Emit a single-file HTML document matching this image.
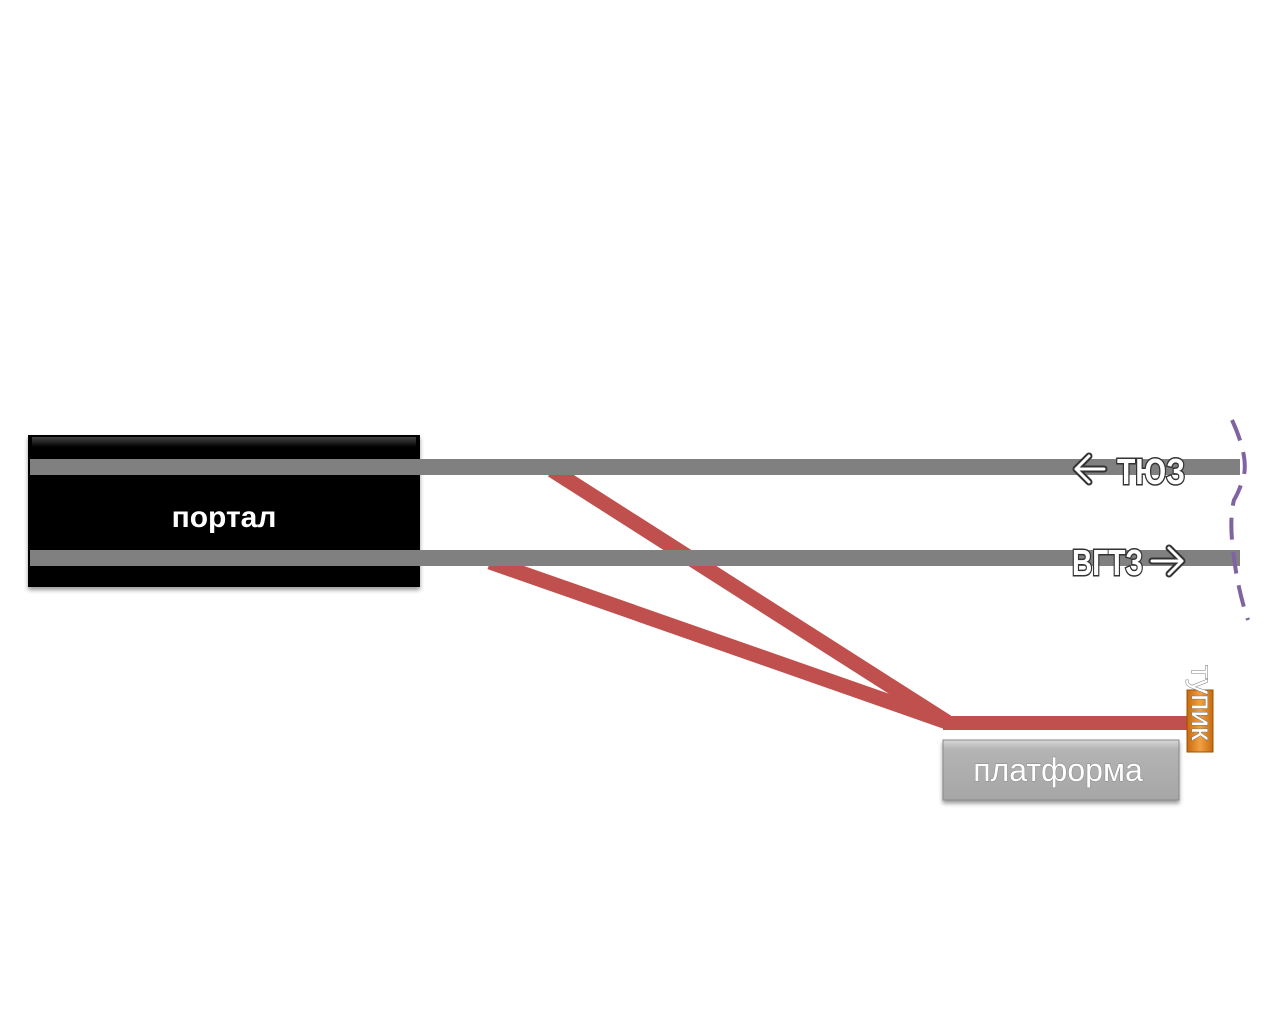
<!DOCTYPE html>
<html><head><meta charset="utf-8"><style>
html,body{margin:0;padding:0;background:#fff;}
body{width:1281px;height:1029px;position:relative;overflow:hidden;font-family:"Liberation Sans","DejaVu Sans",sans-serif;}
</style></head><body>
<svg width="1281" height="1029" viewBox="0 0 1281 1029" xmlns="http://www.w3.org/2000/svg" style="position:absolute;left:0;top:0">
<defs>
<linearGradient id="pg" x1="0" y1="0" x2="0" y2="1">
<stop offset="0" stop-color="#d8d8d8"/><stop offset="0.15" stop-color="#b4b4b4"/><stop offset="1" stop-color="#a6a6a6"/></linearGradient>
<linearGradient id="og" x1="0" y1="0" x2="1" y2="0">
<stop offset="0" stop-color="#c86a10"/><stop offset="0.5" stop-color="#f0a040"/><stop offset="1" stop-color="#c86a10"/></linearGradient>
<linearGradient id="bg" x1="0" y1="0" x2="0" y2="1">
<stop offset="0" stop-color="#444"/><stop offset="1" stop-color="#000"/></linearGradient>
<filter id="sh" x="-5%" y="-5%" width="110%" height="120%"><feDropShadow dx="0" dy="3" stdDeviation="2" flood-color="#000" flood-opacity="0.4"/></filter>
</defs>
<rect x="28" y="435" width="392" height="152" fill="#000" filter="url(#sh)"/>
<rect x="32" y="437" width="384" height="10" fill="url(#bg)"/>
<line x1="552" y1="470" x2="947" y2="722" stroke="#c0504d" stroke-width="15"/>
<line x1="490" y1="562" x2="947" y2="722" stroke="#c0504d" stroke-width="15"/>
<rect x="943" y="716" width="247" height="14" fill="#c0504d"/>
<rect x="30" y="459" width="1210" height="16" fill="#808080"/>
<rect x="30" y="550" width="1210" height="16" fill="#808080"/>
<text x="224" y="527" font-size="30" font-weight="bold" fill="#fff" text-anchor="middle">портал</text>
<g font-size="36" font-weight="bold" fill="#fff" stroke="#333" stroke-width="3" paint-order="stroke">
<text x="1117" y="484" textLength="68" lengthAdjust="spacingAndGlyphs">ТЮЗ</text>
<text x="1072" y="575" textLength="71" lengthAdjust="spacingAndGlyphs">ВГТЗ</text>
</g>
<g fill="none" stroke-linecap="round" stroke-linejoin="round">
<path d="M1104 469 H1076 M1089 456 L1076 469 L1089 482" stroke="#333" stroke-width="7"/>
<path d="M1104 469 H1076 M1089 456 L1076 469 L1089 482" stroke="#fff" stroke-width="3"/>
<path d="M1152 561 H1182 M1169 548 L1182 561 L1169 574" stroke="#333" stroke-width="7"/>
<path d="M1152 561 H1182 M1169 548 L1182 561 L1169 574" stroke="#fff" stroke-width="3"/>
</g>
<path d="M1232 420 Q1248 455 1244 475 Q1240 490 1234 500 Q1230 515 1232 540 Q1236 585 1248 620" fill="none" stroke="#8064a2" stroke-width="4" stroke-dasharray="22 12"/>
<rect x="943" y="740" width="236" height="60" fill="url(#pg)" stroke="#8a8a8a" stroke-width="1" filter="url(#sh)"/>
<text x="1058" y="781" font-size="32" fill="#fff" stroke="#888" stroke-width="1" paint-order="stroke" text-anchor="middle">платформа</text>
<rect x="1187" y="690" width="26" height="62" fill="url(#og)" stroke="#a05000" stroke-width="1"/>
<text transform="translate(1192,665) rotate(90)" font-size="30" fill="#fff" stroke="#777" stroke-width="1" paint-order="stroke">тупик</text>
</svg>
</body></html>
